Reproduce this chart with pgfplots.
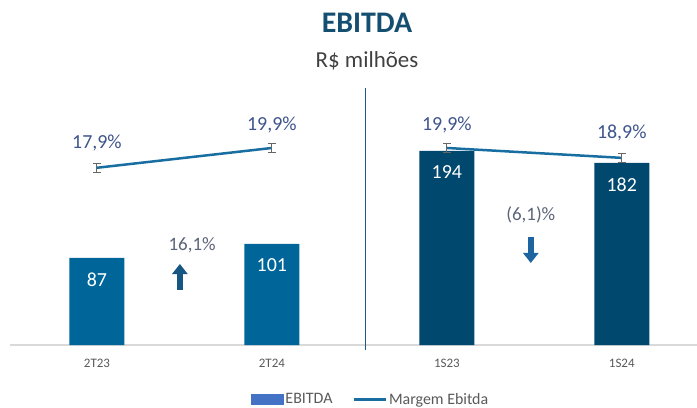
\documentclass[border=0pt]{standalone}
\usepackage{pgfplots}
\pgfplotsset{compat=1.18}
\usepackage{fontspec}
\setmainfont{Carlito}
\usetikzlibrary{arrows.meta}
\definecolor{barlight}{RGB}{0,102,153}
\definecolor{bardark}{RGB}{0,72,110}
\definecolor{linecol}{RGB}{24,110,160}
\definecolor{legblue}{RGB}{68,114,196}
\definecolor{pctcol}{RGB}{62,84,140}
\definecolor{titlecol}{RGB}{20,78,112}
\definecolor{divcol}{RGB}{30,90,135}
\definecolor{subcol}{RGB}{64,64,64}
\definecolor{varcol}{RGB}{90,100,120}
\definecolor{tickcol}{RGB}{89,89,89}
\definecolor{arrowup}{RGB}{22,86,130}
\definecolor{arrowdown}{RGB}{30,100,160}
\begin{document}
\begin{tikzpicture}
\useasboundingbox (0,0) rectangle (697bp,408bp);
% primary axis: bars
\begin{axis}[
  at={(10bp,63bp)}, anchor=south west,
  scale only axis, width=687bp, height=260bp,
  xmin=-0.497, xmax=3.43, ymin=0, ymax=260,
  axis y line=none, axis x line*=bottom,
  x axis line style={draw=black!15, line width=1.2bp},
  xtick={0,1,2,3}, xticklabels={2T23,2T24,1S23,1S24},
  xticklabel style={font=\fontsize{13}{13}\selectfont, text=tickcol, yshift=-11bp},
  major tick length=0pt,
  clip=false,
  ybar, bar width=55bp,
  /pgf/number format/assume math mode=true,
  nodes near coords,
  every node near coord/.append style={font=\fontsize{20}{20}\selectfont, text=white, anchor=north, yshift=-11bp},
]
\addplot[fill=barlight, draw=none, bar shift=0pt] coordinates {(0,87) (1,101)};
\addplot[fill=bardark, draw=none, bar shift=0pt] coordinates {(2,194) (3,182)};
\draw[divcol, line width=1.3bp] (axis cs:1.537,-5) -- (axis cs:1.537,257);
\draw[arrowup, line width=5.5bp, -{Triangle[width=15bp,length=10bp]}] (axis cs:0.474,55) -- (axis cs:0.474,81);
\draw[arrowdown, line width=5.5bp, -{Triangle[width=15bp,length=10bp]}] (axis cs:2.48,108) -- (axis cs:2.48,82);
\node[font=\fontsize{19}{19}\selectfont, text=varcol] at (axis cs:0.544,100) {16,1\%};
\node[font=\fontsize{19}{19}\selectfont, text=varcol] at (axis cs:2.48,130) {(6,1)\%};
\end{axis}
% secondary axis: margin line
\begin{axis}[
  at={(10bp,63bp)}, anchor=south west,
  scale only axis, width=687bp, height=260bp,
  xmin=-0.497, xmax=3.43, ymin=0, ymax=26.26,
  axis x line=none, axis y line=none,
  clip=false,
  legend style={at={(0.525,-0.21)}, anchor=center, draw=none, fill=none,
    legend columns=2, font=\fontsize{16}{16}\selectfont, text=tickcol,
    /tikz/every even column/.append style={column sep=18bp}},
  legend image code/.code={\draw[#1] (0bp,0bp) -- (32bp,0bp);},
]
\addlegendimage{legend image code/.code={\fill[legblue] (0bp,-5bp) rectangle (32bp,5bp);}}
\addlegendentry{EBITDA}
\addplot[linecol, line width=2.5bp, mark=none,
  error bars/.cd, y dir=both, y explicit,
  error bar style={black!60, line width=0.9bp},
  error mark options={black!60, line width=0.9bp, mark size=4bp, rotate=90}]
  coordinates {(0,17.9) +- (0,0.45) (1,19.9) +- (0,0.45)};
\addlegendentry{Margem Ebitda}
\addplot[linecol, line width=2.5bp, mark=none, forget plot,
  error bars/.cd, y dir=both, y explicit,
  error bar style={black!60, line width=0.9bp},
  error mark options={black!60, line width=0.9bp, mark size=4bp, rotate=90}]
  coordinates {(2,19.9) +- (0,0.45) (3,18.9) +- (0,0.45)};
\node[font=\fontsize{20}{20}\selectfont, text=pctcol] at (axis cs:0,20.4) {17,9\%};
\node[font=\fontsize{20}{20}\selectfont, text=pctcol] at (axis cs:1,22.2) {19,9\%};
\node[font=\fontsize{20}{20}\selectfont, text=pctcol] at (axis cs:2,22.2) {19,9\%};
\node[font=\fontsize{20}{20}\selectfont, text=pctcol] at (axis cs:3,21.4) {18,9\%};
\end{axis}
\node[font=\bfseries\fontsize{30}{30}\selectfont, text=titlecol] at (367bp,385bp) {EBITDA};
\node[font=\fontsize{23}{23}\selectfont, text=subcol] at (367bp,347bp) {R\$ milhões};
\end{tikzpicture}
\end{document}
